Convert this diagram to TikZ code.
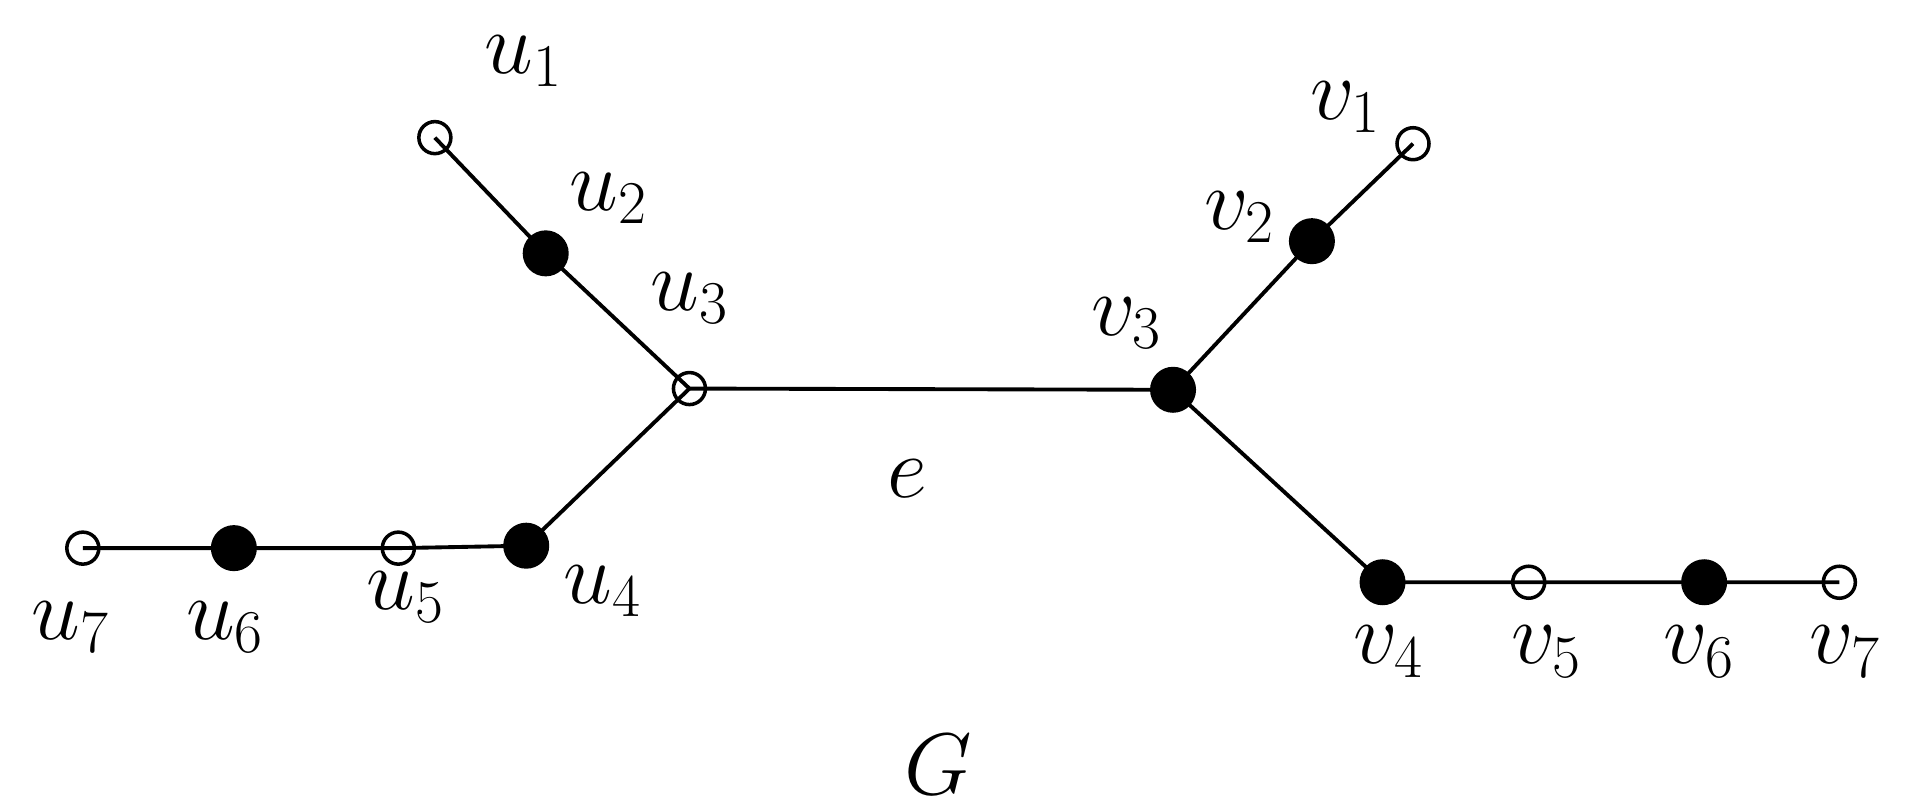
\documentclass[tikz,border=0pt]{standalone}
\begin{document}
\begin{tikzpicture}[x=0.01218cm,y=-0.01218cm,
  op/.style={circle,draw,line width=1pt,minimum size=0.32cm,inner sep=0pt},
  fi/.style={circle,fill=black,minimum size=0.46cm,inner sep=0pt},
  lab/.style={font=\fontsize{26}{30}\selectfont},
  ed/.style={line width=1.1pt}]
\useasboundingbox (0,0) rectangle (1568,666);
\foreach \n/\x/\y in {u1/357/113,u2/448/208,u3/566/319,u4/432/448,u5/327/450,u6/192/450,u7/68/450,
  v1/1160/118,v2/1077/198,v3/963/320,v4/1135/478,v5/1255/478,v6/1399/478,v7/1510/478}
  \coordinate (\n) at (\x,\y);
\draw[ed] (u1)--(u2)--(u3)--(v3)--(v2)--(v1);
\draw[ed] (u3)--(u4)--(u5)--(u6)--(u7);
\draw[ed] (v3)--(v4)--(v5)--(v6)--(v7);
\foreach \n in {u1,u3,u5,u7,v1,v5,v7} \node[op] (n\n) at (\n) {};
\foreach \n in {u2,u4,u6,v2,v3,v4,v6} \node[fi] (n\n) at (\n) {};
\node[lab] (lu1) at (430,50) {$u_1$};
\node[lab] (lu2) at (500,163) {$u_2$};
\node[lab] (lu3) at (566,245) {$u_3$};
\node[lab] (lu4) at (495,485) {$u_4$};
\node[lab] (lu5) at (333,490) {$u_5$};
\node[lab] (lu6) at (185,515) {$u_6$};
\node[lab] (lu7) at (58,515) {$u_7$};
\node[lab] (lv1) at (1105,88) {$v_1$};
\node[lab] (lv2) at (1018,178) {$v_2$};
\node[lab] (lv3) at (925,265) {$v_3$};
\node[lab] (lv4) at (1140,535) {$v_4$};
\node[lab] (lv5) at (1270,535) {$v_5$};
\node[lab] (lv6) at (1395,535) {$v_6$};
\node[lab] (lv7) at (1515,535) {$v_7$};
\node[lab] (le) at (745,393) {$e$};
\node[lab] (lG) at (770,628) {$G$};
\end{tikzpicture}
\end{document}
